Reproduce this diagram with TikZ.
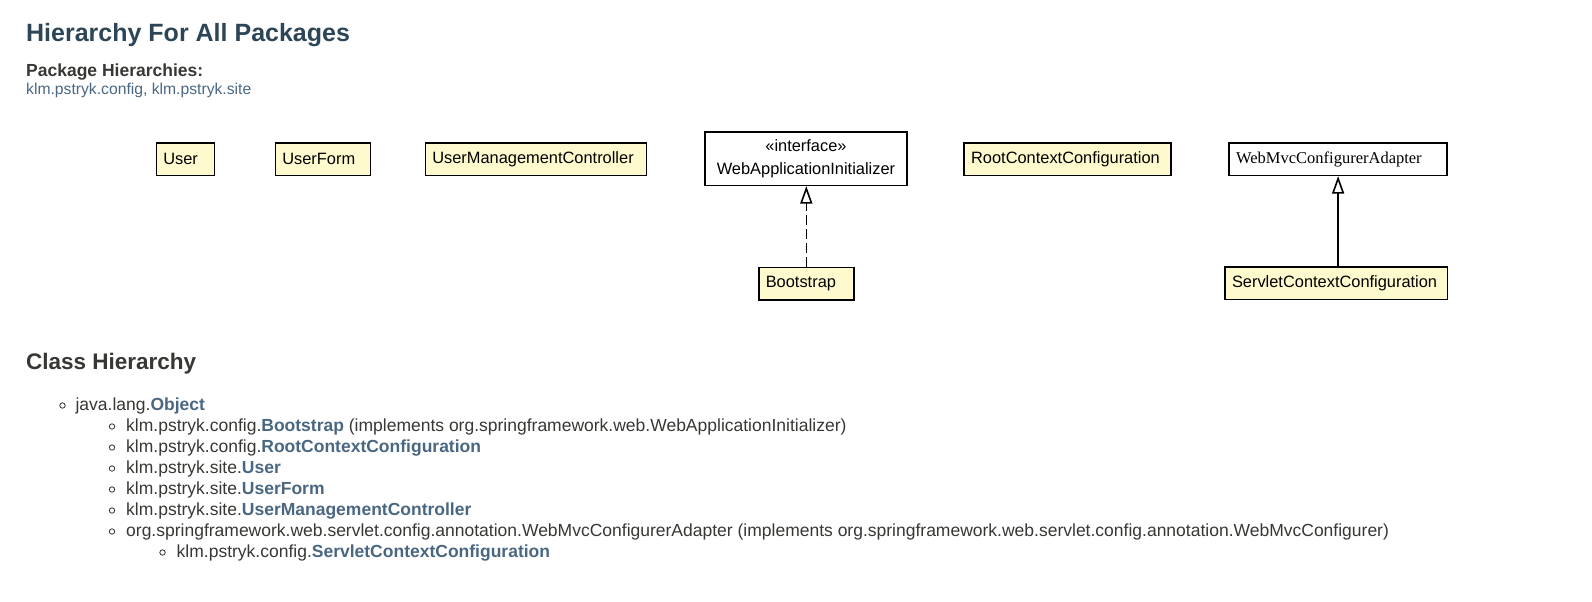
\documentclass[tikz,border=0pt]{standalone}
\usepackage{fontspec}
\setmainfont{Liberation Sans}
\newfontfamily\timesfont{Liberation Serif}
\usetikzlibrary{arrows.meta}
\definecolor{headblue}{HTML}{2C4557}
\definecolor{linkblue}{HTML}{4A6782}
\definecolor{bodytext}{HTML}{353833}
\definecolor{boxfill}{RGB}{255,250,205}

\begin{document}
\begin{tikzpicture}[x=1pt, y=-1pt,
    classbox/.style={draw, line width=1.6pt, fill=boxfill, anchor=north west,
      minimum height=32.5pt, inner xsep=7pt, inner ysep=0pt, align=left,
      font=\fontsize{16.4}{19}\selectfont},
    ifacebox/.style={draw, line width=1.6pt, fill=white, anchor=north west,
      minimum height=53.5pt, inner xsep=7pt, inner ysep=0pt, align=center,
      font=\fontsize{16.4}{23.5}\selectfont},
    listline/.style={anchor=base west, inner sep=0pt, text=bodytext,
      font=\fontsize{17.5}{21}\selectfont},
    realize/.style={line width=1.6pt, -{Triangle[open, width=12pt, length=17.5pt, line width=1.6pt]}}]
  \useasboundingbox (0,0) rectangle (1592,602);

  % page header
  \node (title) [anchor=base west, inner sep=0pt, text=headblue,
    font=\fontsize{25}{30}\selectfont\bfseries] at (26,41.5) {Hierarchy For All Packages};
  \node (pkghead) [anchor=base west, inner sep=0pt, text=bodytext,
    font=\fontsize{17.5}{21}\selectfont\bfseries] at (26,76.2) {Package Hierarchies:};
  \node (pkglist) [anchor=base west, inner sep=0pt, text=linkblue,
    font=\fontsize{15.7}{19}\selectfont] at (26,94.5) {klm.pstryk.config, klm.pstryk.site};

  % package diagram
  \node (user) [classbox, text width=44pt] at (155.5,142) {User};
  \node (userform) [classbox, text width=81pt] at (274.5,142) {UserForm};
  \node (usermgmt) [classbox, text width=207pt] at (424.5,142) {UserManagementController};
  \node (webinit) [ifacebox, text width=187.5pt] at (704.4,131) {«interface»\\WebApplicationInitializer};
  \node (rootctx) [classbox, text width=193pt] at (963.3,142) {RootContextConfiguration};
  \node (webmvc) [classbox, fill=white, text width=204pt,
    font=\fontsize{16.5}{19}\timesfont] at (1228.3,142) {WebMvcConfigurerAdapter};
  \node (bootstrap) [classbox, text width=81pt] at (758,266.5) {Bootstrap};
  \node (servletctx) [classbox, text width=208.5pt] at (1224.2,266) {ServletContextConfiguration};

  \draw[realize, dash pattern=on 10pt off 4pt] (bootstrap.north) -- (bootstrap.north |- webinit.south);
  \draw[realize] (webmvc.south |- servletctx.north) -- (webmvc.south);

  % class hierarchy
  \node (classhead) [anchor=base west, inner sep=0pt, text=bodytext,
    font=\fontsize{22.5}{27}\selectfont\bfseries] at (26,369.5) {Class Hierarchy};

  \node (objline) [listline] at (75.4,410.5) {java.lang.\textcolor{linkblue}{\textbf{Object}}};
  \node (bootline) [listline] at (126,431.5) {klm.pstryk.config.\textcolor{linkblue}{\textbf{Bootstrap}} (implements org.springframework.web.WebApplicationInitializer)};
  \node (rootline) [listline] at (126,452.5) {klm.pstryk.config.\textcolor{linkblue}{\textbf{RootContextConfiguration}}};
  \node (userline) [listline] at (126,473.5) {klm.pstryk.site.\textcolor{linkblue}{\textbf{User}}};
  \node (formline) [listline] at (126,494.5) {klm.pstryk.site.\textcolor{linkblue}{\textbf{UserForm}}};
  \node (mgmtline) [listline] at (126,515.5) {klm.pstryk.site.\textcolor{linkblue}{\textbf{UserManagementController}}};
  \node (mvcline) [listline] at (126,536.5) {org.springframework.web.servlet.config.annotation.WebMvcConfigurerAdapter (implements org.springframework.web.servlet.config.annotation.WebMvcConfigurer)};
  \node (servletline) [listline] at (176.5,557.5) {klm.pstryk.config.\textcolor{linkblue}{\textbf{ServletContextConfiguration}}};

  % list bullets
  \foreach \bx/\by in {62.5/405.5, 112/426.5, 112/447.5, 112/468.5, 112/489.5, 112/510.5, 112/531.5, 162.5/552.5}
    \draw[bodytext, line width=0.8pt] (\bx,\by) circle (2.7pt);
\end{tikzpicture}
\end{document}
